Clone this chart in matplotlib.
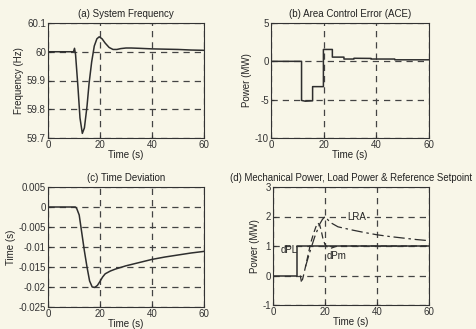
import matplotlib
matplotlib.use("Agg")
import matplotlib.pyplot as plt
import numpy as np

plt.rcParams['font.family'] = ['Liberation Sans', 'DejaVu Sans']
plt.rcParams['axes.unicode_minus'] = False

# (a) System frequency
t_freq = [0, 9.8, 10.2, 10.6, 11.5, 12.3, 13.2, 14.0, 15.0, 15.8, 16.8, 17.8, 18.8, 19.7, 20.8, 22.0, 23.5, 25.0, 26.5, 28.0, 30.0, 32.0, 35.0, 40.0, 45.0, 50.0, 55.0, 60.0]
freq = [60.0, 60.0, 60.012, 59.99, 59.88, 59.77, 59.716, 59.735, 59.81, 59.89, 59.965, 60.02, 60.045, 60.052, 60.045, 60.03, 60.015, 60.008, 60.008, 60.011, 60.013, 60.013, 60.012, 60.01, 60.009, 60.008, 60.006, 60.005]

# (b) Area control error (step-wise)
t_ace = [0, 11.6, 11.6, 13.0, 15.8, 15.8, 19.9, 19.9, 23.3, 23.3, 27.7, 27.7, 31.5, 31.5, 38.0, 38.0, 47.0, 47.0, 60.0]
ace = [0, 0, -5.1, -5.2, -5.15, -3.3, -3.3, 1.55, 1.55, 0.55, 0.55, 0.3, 0.3, 0.4, 0.38, 0.3, 0.3, 0.2, 0.2]

# (c) Time deviation
t_dev = [0, 10.5, 11.0, 12.0, 13.0, 14.0, 15.0, 16.0, 17.0, 18.0, 19.0, 20.0, 21.0, 22.0, 24.0, 26.0, 30.0, 35.0, 40.0, 45.0, 50.0, 55.0, 60.0]
tdev = [0, 0, -0.0003, -0.002, -0.0065, -0.011, -0.015, -0.0185, -0.0200, -0.0201, -0.0196, -0.0186, -0.0175, -0.0167, -0.016, -0.0155, -0.0147, -0.0139, -0.0131, -0.0125, -0.0120, -0.0115, -0.0111]

# (d) Mechanical power, load power & reference setpoint
t_dpl = [0, 9.2, 9.2, 60]
dpl = [0, 0, 1, 1]
t_dpm = [10.5, 11.0, 11.6, 12.5, 13.5, 14.5, 15.5, 16.5, 17.3, 18.0, 18.6, 19.2, 20.0, 21.0, 22.5, 24.0, 26.0, 30.0, 40.0, 60.0]
dpm = [0.0, -0.25, -0.05, 0.3, 0.7, 1.1, 1.4, 1.65, 1.78, 1.7, 1.5, 1.25, 1.05, 0.95, 0.93, 0.98, 1.0, 1.0, 1.0, 1.0]
t_lra = [12.5, 14.0, 16.0, 18.0, 19.0, 20.0, 22.0, 25.0, 30.0, 35.0, 40.0, 45.0, 50.0, 55.0, 60.0]
lra = [0.3, 0.75, 1.3, 1.75, 1.9, 2.0, 1.8, 1.65, 1.55, 1.46, 1.38, 1.32, 1.27, 1.22, 1.18]

bg = '#f8f6e8'
lc = '#2e2e2e'
fs = 7

fig = plt.figure(figsize=(4.76, 3.29), dpi=100, facecolor=bg)
W, H = 476, 329

def mkax(l, r, t, b):
    ax = fig.add_axes([l / W, 1 - b / H, (r - l) / W, (b - t) / H], facecolor=bg)
    ax.grid(True, linestyle=(0, (5, 4)), color='#444444', linewidth=0.9)
    ax.tick_params(direction='in', length=2.5, labelsize=fs, colors='#333333', pad=1.5)
    for s in ax.spines.values():
        s.set_color('#333333')
        s.set_linewidth(0.8)
    ax.set_xlim(0, 60)
    ax.set_xticks([0, 20, 40, 60])
    ax.set_xlabel('Time (s)', fontsize=fs, labelpad=0, color='#222222')
    return ax

ax1 = mkax(48, 204, 23, 138)
ax1.plot(t_freq, freq, color=lc, lw=1.1)
ax1.set_ylim(59.7, 60.1)
ax1.set_yticks([59.7, 59.8, 59.9, 60.0, 60.1])
ax1.set_yticklabels(['59.7', '59.8', '59.9', '60', '60.1'])
ax1.set_ylabel('Frequency (Hz)', fontsize=fs, labelpad=2, color='#222222')
ax1.set_title('(a) System Frequency', fontsize=fs, pad=4, color='#222222')

ax2 = mkax(271, 429, 23, 138)
ax2.plot(t_ace, ace, color=lc, lw=1.1)
ax2.set_ylim(-10, 5)
ax2.set_yticks([-10, -5, 0, 5])
ax2.set_ylabel('Power (MW)', fontsize=fs, labelpad=2, color='#222222')
ax2.set_title('(b) Area Control Error (ACE)', fontsize=fs, pad=4, color='#222222')

ax3 = mkax(48, 204, 187, 307)
ax3.plot(t_dev, tdev, color=lc, lw=1.1)
ax3.set_ylim(-0.025, 0.005)
ax3.set_yticks([-0.025, -0.02, -0.015, -0.01, -0.005, 0, 0.005])
ax3.set_yticklabels(['-0.025', '-0.02', '-0.015', '-0.01', '-0.005', '0', '0.005'])
ax3.set_ylabel('Time (s)', fontsize=fs, labelpad=2, color='#222222')
ax3.set_title('(c) Time Deviation', fontsize=fs, pad=4, color='#222222')

ax4 = mkax(273, 429, 187, 305)
ax4.plot(t_dpl, dpl, color=lc, lw=1.1)
ax4.plot(t_dpm, dpm, color=lc, lw=0.9, linestyle=(0, (5, 3)))
ax4.plot(t_lra, lra, color=lc, lw=0.9, linestyle=(0, (9, 3, 2, 3)))
ax4.set_ylim(-1, 3)
ax4.set_yticks([-1, 0, 1, 2, 3])
ax4.set_ylabel('Power (MW)', fontsize=fs, labelpad=2, color='#222222')
ax4.text(0.5, 1.0 + 4 / 118, '(d) Mechanical Power, Load Power & Reference Setpoint',
         transform=ax4.transAxes, fontsize=6.9, color='#222222', ha='center', va='bottom')
ax4.text(3, 0.85, 'dPL', fontsize=fs, color='#222222', va='center')
ax4.text(20.5, 0.65, 'dPm', fontsize=fs, color='#222222', va='center')
ax4.text(28.5, 2.0, 'LRA', fontsize=fs, color='#222222', va='center',
         bbox=dict(facecolor=bg, edgecolor='none', pad=0.5))

fig.savefig('out.png', dpi=100, facecolor=bg)
